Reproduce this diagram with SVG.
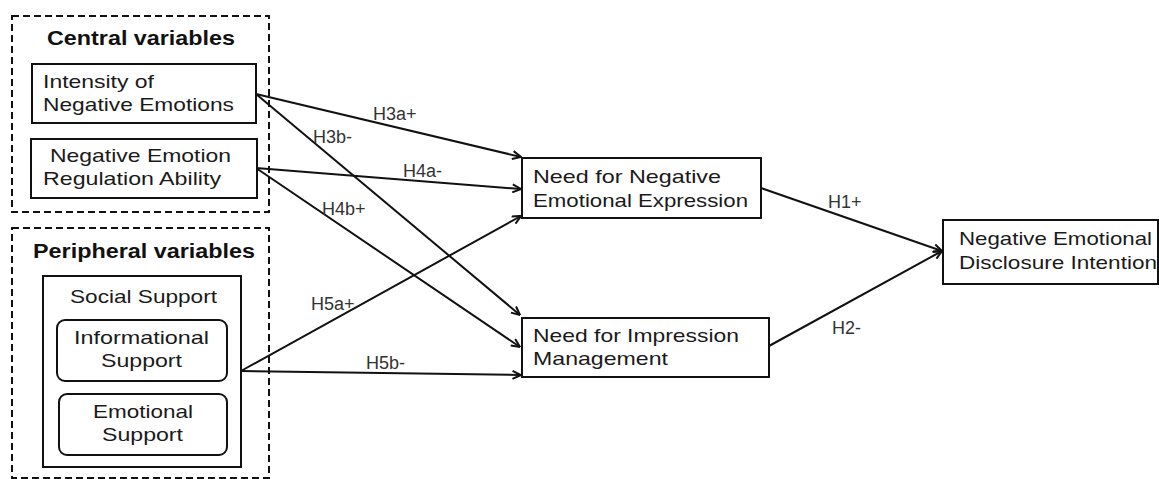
<svg xmlns="http://www.w3.org/2000/svg" width="1159" height="479" viewBox="0 0 1159 479">
  <defs>
    <style>
      .group { fill: none; stroke: #111; stroke-width: 2; stroke-dasharray: 7 4; }
      .box { fill: #fff; stroke: #111; stroke-width: 2; }
      .title { font-family: "Liberation Sans", Arial, sans-serif; font-weight: bold; font-size: 20px; fill: #111; }
      .t { font-family: "Liberation Sans", Arial, sans-serif; font-size: 19px; fill: #1a1a1a; }
      .lbl { font-family: "Liberation Sans", Arial, sans-serif; font-size: 18px; fill: #333; }
      .edge { fill: none; stroke: #111; stroke-width: 2; marker-end: url(#arrow); }
    </style>
    <marker id="arrow" viewBox="0 0 10 10" refX="9.5" refY="5" markerWidth="10" markerHeight="10" markerUnits="userSpaceOnUse" orient="auto">
      <path d="M1,1 L9.5,5 L1,9" fill="none" stroke="#111" stroke-width="2"/>
    </marker>
  </defs>
  <rect width="1159" height="479" fill="#fff"/>

  <!-- Grouping frames -->
  <g id="central-variables">
    <rect class="group" x="12" y="16" width="257" height="196"/>
    <text class="title" x="47" y="45" textLength="188" lengthAdjust="spacingAndGlyphs">Central variables</text>
  </g>
  <g id="peripheral-variables">
    <rect class="group" x="12" y="228" width="257" height="250"/>
    <text class="title" x="33" y="258" textLength="222" lengthAdjust="spacingAndGlyphs">Peripheral variables</text>
  </g>

  <!-- Connectors -->
  <g id="connectors">
    <line class="edge" x1="256" y1="94" x2="521" y2="157"/>
    <line class="edge" x1="256" y1="94" x2="520" y2="315"/>
    <line class="edge" x1="256" y1="168" x2="521" y2="189"/>
    <line class="edge" x1="256" y1="168" x2="520" y2="347"/>
    <line class="edge" x1="241" y1="371" x2="521" y2="216"/>
    <line class="edge" x1="241" y1="371" x2="521" y2="375"/>
    <line class="edge" x1="761" y1="188" x2="942" y2="251"/>
    <line class="edge" x1="769" y1="346" x2="942" y2="251"/>
    <text class="lbl" x="373" y="120">H3a+</text>
    <text class="lbl" x="313" y="143">H3b-</text>
    <text class="lbl" x="403" y="177">H4a-</text>
    <text class="lbl" x="322" y="215">H4b+</text>
    <text class="lbl" x="311" y="310">H5a+</text>
    <text class="lbl" x="366" y="369">H5b-</text>
    <text class="lbl" x="828" y="208">H1+</text>
    <text class="lbl" x="832" y="334">H2-</text>
  </g>

  <!-- Nodes -->
  <g id="intensity">
    <rect class="box" x="32" y="64" width="224" height="59"/>
    <text class="t" x="43" y="88" textLength="111" lengthAdjust="spacingAndGlyphs">Intensity of</text>
    <text class="t" x="43" y="111" textLength="191" lengthAdjust="spacingAndGlyphs">Negative Emotions</text>
  </g>
  <g id="regulation">
    <rect class="box" x="31" y="139" width="226" height="59"/>
    <text class="t" x="50" y="162" textLength="181" lengthAdjust="spacingAndGlyphs">Negative Emotion</text>
    <text class="t" x="43" y="185" textLength="178" lengthAdjust="spacingAndGlyphs">Regulation Ability</text>
  </g>
  <g id="social-support">
    <rect class="box" x="43" y="276" width="198" height="191"/>
    <text class="t" x="70" y="303" textLength="147" lengthAdjust="spacingAndGlyphs">Social Support</text>
  </g>
  <g id="informational-support">
    <rect class="box" x="57" y="320" width="170" height="61" rx="8"/>
    <text class="t" x="74" y="344" textLength="135" lengthAdjust="spacingAndGlyphs">Informational</text>
    <text class="t" x="101" y="367" textLength="81" lengthAdjust="spacingAndGlyphs">Support</text>
  </g>
  <g id="emotional-support">
    <rect class="box" x="59" y="394" width="168" height="61" rx="8"/>
    <text class="t" x="93" y="418" textLength="100" lengthAdjust="spacingAndGlyphs">Emotional</text>
    <text class="t" x="102" y="441" textLength="81" lengthAdjust="spacingAndGlyphs">Support</text>
  </g>
  <g id="need-expression">
    <rect class="box" x="522" y="158" width="239" height="60"/>
    <text class="t" x="533" y="183" textLength="188" lengthAdjust="spacingAndGlyphs">Need for Negative</text>
    <text class="t" x="533" y="207" textLength="215" lengthAdjust="spacingAndGlyphs">Emotional Expression</text>
  </g>
  <g id="need-impression">
    <rect class="box" x="522" y="318" width="247" height="59"/>
    <text class="t" x="533" y="342" textLength="206" lengthAdjust="spacingAndGlyphs">Need for Impression</text>
    <text class="t" x="533" y="365" textLength="135" lengthAdjust="spacingAndGlyphs">Management</text>
  </g>
  <g id="disclosure-intention">
    <rect class="box" x="943" y="220" width="215" height="64"/>
    <text class="t" x="959" y="245" textLength="193" lengthAdjust="spacingAndGlyphs">Negative Emotional</text>
    <text class="t" x="959" y="269" textLength="198" lengthAdjust="spacingAndGlyphs">Disclosure Intention</text>
  </g>
</svg>
